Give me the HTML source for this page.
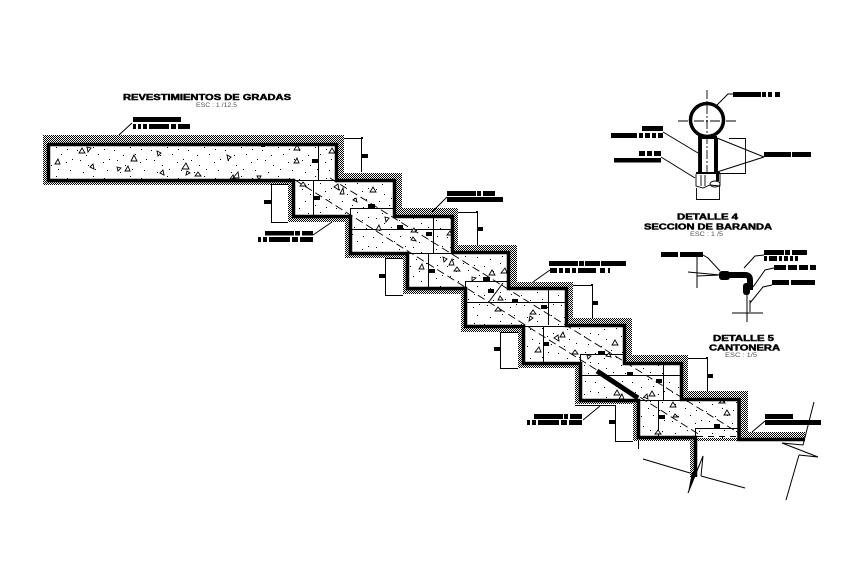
<!DOCTYPE html>
<html><head><meta charset="utf-8"><style>
html,body{margin:0;padding:0;background:#fff;width:861px;height:585px;overflow:hidden}
svg{display:block}
text{font-family:"Liberation Sans",sans-serif;fill:#000}
.h{font-weight:bold;stroke:#000;stroke-width:.45}
.s{fill:#555}
.b rect{fill:#000}
.thin{fill:none;stroke:#000;stroke-width:1}
</style></head><body>
<svg width="861" height="585" viewBox="0 0 861 585" xmlns="http://www.w3.org/2000/svg">
<defs>
<pattern id="hatch" width="2" height="2" patternUnits="userSpaceOnUse">
<rect width="2" height="2" fill="#fff"/><rect width="1" height="1" fill="#000"/><rect x="1" y="1" width="1" height="1" fill="#000"/>
</pattern>
<pattern id="dots" width="37" height="29" patternUnits="userSpaceOnUse">
<rect x="3" y="5" width="1" height="1"/><rect x="14" y="20" width="1" height="1"/><rect x="24" y="9" width="1" height="1"/><rect x="33" y="25" width="1" height="1"/><rect x="35" y="14" width="1" height="1"/><rect x="9" y="27" width="1" height="1"/><rect x="19" y="2" width="1" height="1"/><rect x="29" y="17" width="1" height="1"/><rect x="6" y="15" width="1" height="1"/><rect x="21" y="24" width="1" height="1"/><rect x="12" y="10" width="1" height="1"/><rect x="30" y="4" width="1" height="1"/>
</pattern>
<clipPath id="inner"><polygon points="48,144 336,144 336,180 394,180 394,216 452,216 452,252 508,252 508,288 566,288 566,325 624,325 624,363 681,363 681,399 739,399 739,438 695,438 638,437 638,400 580,400 580,363 523,363 523,326 465,326 465,288 407,288 407,253 350,253 350,216 293,216 293,180 48,180"/></clipPath>
</defs>
<rect width="861" height="585" fill="#fff"/>

<!-- hatch band -->
<polygon fill="url(#hatch)" shape-rendering="crispEdges" points="43,135 344,135 344,173 402,173 402,208 458,208 458,245 517,245 517,282 573,282 573,318 632,318 632,355 688,355 688,391 748,391 748,432 805,432 805,441 697,441 697,477 690,477 690,441 633,441 633,404 575,404 575,368 518,368 518,332 461,332 461,294 403,294 403,258 345,258 345,222 288,222 288,185 43,185"/>
<!-- concrete -->
<polygon fill="#fff" points="48,144 336,144 336,180 394,180 394,216 452,216 452,252 508,252 508,288 566,288 566,325 624,325 624,363 681,363 681,399 739,399 739,438 695,438 638,437 638,400 580,400 580,363 523,363 523,326 465,326 465,288 407,288 407,253 350,253 350,216 293,216 293,180 48,180"/>
<polygon fill="url(#dots)" points="48,144 336,144 336,180 394,180 394,216 452,216 452,252 508,252 508,288 566,288 566,325 624,325 624,363 681,363 681,399 739,399 739,438 695,438 638,437 638,400 580,400 580,363 523,363 523,326 465,326 465,288 407,288 407,253 350,253 350,216 293,216 293,180 48,180"/>

<!-- dashed diagonals -->
<g clip-path="url(#inner)" fill="none" stroke="#000" stroke-width=".9" stroke-dasharray="8 4">
<line x1="330" y1="178" x2="745" y2="437"/>
<line x1="295" y1="180" x2="700" y2="435"/>
</g>

<!-- inner thin lines -->
<g class="thin" shape-rendering="crispEdges">
<path d="M318.500 144V180M293 180.500H336M313.500 180V216M350 208.500H394M350.500 208V216M351 229.500H452M433.500 216V253M407 253.500H452M428.500 253V288M465 281.500H508M465.500 281V288M467 302.500H566M548.500 288V325M523 326.500H566M543.500 326V363M580 354.500H624M580.500 354V363M582 375.500H681M663.500 363V400M638 400.500H681M658.500 400V437M695 428.500H739M695.500 428V438"/>
</g>
<line x1="488" y1="303" x2="503" y2="283" stroke="#000"/>
<line x1="697" y1="436.500" x2="737" y2="436.500" stroke="#000" stroke-dasharray="6 5"/>

<!-- triangles -->
<g fill="#fff" stroke="#000" stroke-width=".9">
<path d="M82 148l-3 5h6zM87 147l4 1-3 4zM58 159l-3 5h5zM93 164l-3 3 4 2zM117 167l4 1-3 3zM128 166l-3 5h5zM134 155l-3 6h6zM157 151l4 2-3 3zM163 170l-3 3 4 2zM186 163l-4 6h7zM187 171l3 2-4 2zM198 172l-3 4h6zM227 155l4 2-3 3zM238 172l-5 6h6zM233 175l-3 4h5zM257 176l4 0-2 4zM297 158l-3 5h5zM297 145l-3 5h6zM332 148l-3 5h6zM303 182l-3 4h6zM338 184l-4 3 5 3zM343 188l-3 6 4 0zM373 187l-3 5h6zM356 198l-3 2 4 2z"/>
<path d="M385 217l4 1-3 4zM379 225l-3 5h5zM414 228l-3 4 5 0zM413 237l3 4-5-1zM450 231l-3 4h5zM443 257l4 2-3 3zM452 259l-3 6h5zM457 267l-3 4h6zM422 264l-3 5h5zM492 270l-3 5h6zM505 268l-4 5h6zM472 277l4 1-4 3zM500 296l3 4-5 0zM498 307l-3 4h6zM533 310l-3 4h6zM530 316l3 2-4 3z"/>
<path d="M563 332l-3 5h5zM558 335l-4 3 5 3zM615 340l-3 5h6zM539 347l-4 5h6zM575 350l-3 4h6zM587 355l4 1-3 3zM609 353l-3 3 5 1zM617 390l-3 5h6zM647 394l-3 3 4 2zM652 391l-3 5h6zM622 394l-3 5h5zM673 402l-3 5h6zM727 410l-3 5h6zM675 414l3 3-5 0zM658 430l-3 4h6zM722 400l3 3-6 0z"/>
</g>

<!-- thick black profile -->
<g fill="none" stroke="#000" stroke-width="3.500" stroke-linejoin="miter">
<polyline points="48,144.500 336.500,144.500 336.500,180.500 394.500,180.500 394.500,216.500 452.500,216.500 452.500,252.500 508.500,252.500 508.500,288.500 566.500,288.500 566.500,325.500 624.500,325.500 624.500,363.500 681.500,363.500 681.500,399.500 739,399.500 739,439.500 805,439.500"/>
<polyline points="695.500,477 695.500,437.500 638.500,437.500 638.500,400.500 580.500,400.500 580.500,363.500 523.500,363.500 523.500,326.500 465.500,326.500 465.500,288.500 407.500,288.500 407.500,253.500 350.500,253.500 350.500,216.500 293.500,216.500 293.500,180.500 48.500,180.500 48.500,144"/>
</g>
<line x1="597" y1="371" x2="638" y2="398" stroke="#000" stroke-width="5"/>

<!-- black ticks -->
<g class="b">
<rect x="312" y="159" width="6" height="4"/><rect x="314" y="196" width="6" height="4"/><rect x="368" y="204" width="7" height="4"/><rect x="261" y="144" width="4" height="3"/>
<rect x="397" y="225" width="6" height="4"/><rect x="426" y="232" width="6" height="4"/><rect x="429" y="269" width="6" height="4"/><rect x="483" y="277" width="7" height="4"/><rect x="488" y="289" width="6" height="4"/><rect x="512" y="299" width="6" height="4"/><rect x="541" y="305" width="6" height="4"/>
<rect x="598" y="351" width="7" height="4"/><rect x="543" y="342" width="6" height="4"/><rect x="627" y="372" width="6" height="4"/><rect x="656" y="379" width="6" height="4"/><rect x="659" y="415" width="6" height="4"/><rect x="714" y="424" width="6" height="4"/>
<rect x="362" y="154" width="6" height="4"/><rect x="477" y="227" width="6" height="4"/><rect x="592" y="301" width="6" height="4"/><rect x="707" y="374" width="6" height="4"/>
<rect x="264" y="200" width="7" height="4"/><rect x="379" y="274" width="6" height="4"/><rect x="494" y="347" width="6" height="4"/><rect x="609" y="420" width="6" height="4"/>
<rect x="361" y="137" width="2" height="2"/><rect x="476" y="211" width="2" height="2"/><rect x="591" y="284" width="2" height="2"/><rect x="706" y="357" width="2" height="2"/>
</g>

<!-- dimension lines -->
<g class="thin" shape-rendering="crispEdges">
<path d="M344 138.500H361.500V172M458 212.500H477.500V245M573 285.500H592.500V318M688 358.500H707.500V391"/>
<path d="M288 184.500H271.500V222.500H288M403 258.500H385.500V295.500H403M518 332.500H500.500V368.500H518M575 405.500H615.500V441.500H633M638.500 441V449"/>
</g>

<!-- leaders -->
<g class="thin" stroke-width=".9">
<path d="M132 123L119 135M313 235L332 222M447 197L432 212M550 270L533 282M583 420L600 406M765 421L752 432"/>
<path d="M733 94H728L717 105M663 132L698 153M661 157L695 178M764 157L717 138M764 157L717 172"/>
<path d="M703 255L708 258L720 271M764 255L755 256L744 268M774 268L765 270L753 287M772 285L763 287L750 303"/>
</g>

<!-- break lines -->
<g class="thin" stroke-width=".9">
<path d="M643 459L690 473M701 476L745 488M701 476L703 456L688 493M782 443L818 457M799 455L818 457M799 455L786 500M814 402L803 445L782 443"/>
</g>
<path d="M688 493L692 472L697 472z" fill="#000"/>

<!-- callout blobs: illegible in the reference -->
<g class="b">
<rect x="133" y="117" width="48" height="5"/><rect x="133" y="124" width="3" height="5"/><rect x="138" y="124" width="3" height="5"/><rect x="143" y="124" width="4" height="5"/><rect x="149" y="124" width="20" height="5"/><rect x="171" y="124" width="5" height="5"/><rect x="178" y="124" width="12" height="5"/>
<rect x="265" y="231" width="29" height="4.500"/><rect x="295" y="231" width="5" height="4.500"/><rect x="302" y="231" width="11" height="4.500"/>
<rect x="258" y="237" width="3" height="5"/><rect x="263" y="237" width="4" height="5"/><rect x="269" y="237" width="21" height="5"/><rect x="292" y="237" width="6" height="5"/><rect x="300" y="237" width="13" height="5"/>
<rect x="447" y="191" width="29" height="5"/><rect x="477" y="191" width="4" height="5"/><rect x="483" y="191" width="12" height="5"/><rect x="447" y="197" width="56" height="5"/>
<rect x="549" y="261" width="29" height="5"/><rect x="579" y="261" width="5" height="5"/><rect x="585" y="261" width="15" height="5"/><rect x="601" y="261" width="25" height="5"/>
<rect x="550" y="268" width="7" height="5"/><rect x="559" y="268" width="4" height="5"/><rect x="565" y="268" width="5" height="5"/><rect x="572" y="268" width="4" height="5"/><rect x="578" y="268" width="18" height="5"/><rect x="600" y="268" width="5" height="5"/><rect x="608" y="268" width="2" height="5"/>
<rect x="534" y="414" width="29" height="5"/><rect x="564" y="414" width="4" height="5"/><rect x="570" y="414" width="12" height="5"/>
<rect x="527" y="420" width="3" height="5"/><rect x="532" y="420" width="4" height="5"/><rect x="538" y="420" width="21" height="5"/><rect x="561" y="420" width="6" height="5"/><rect x="569" y="420" width="13" height="5"/>
<rect x="765" y="414" width="28" height="5"/><rect x="765" y="420" width="56" height="5"/>
<rect x="733" y="92" width="28" height="5"/><rect x="762" y="92" width="4" height="5"/><rect x="768" y="92" width="4" height="5"/><rect x="775" y="92" width="5" height="5"/>
<rect x="642" y="126" width="21" height="5"/><rect x="611" y="133" width="26" height="5"/><rect x="639" y="133" width="4" height="5"/><rect x="645" y="133" width="5" height="5"/><rect x="652" y="133" width="4" height="5"/><rect x="658" y="133" width="5" height="5"/>
<rect x="639" y="151" width="6" height="5"/><rect x="647" y="151" width="5" height="5"/><rect x="654" y="151" width="7" height="5"/><rect x="614" y="158" width="47" height="4.500"/>
<rect x="764" y="152" width="27" height="5"/><rect x="792" y="152" width="19" height="5"/>
<rect x="661" y="252" width="17" height="5"/><rect x="680" y="252" width="23" height="5"/>
<rect x="764" y="250" width="20" height="5"/><rect x="785" y="250" width="5" height="5"/><rect x="792" y="250" width="15" height="5"/>
<rect x="764" y="256" width="3" height="5"/><rect x="769" y="256" width="8" height="5"/><rect x="779" y="256" width="3" height="5"/><rect x="784" y="256" width="4" height="5"/><rect x="790" y="256" width="3" height="5"/><rect x="795" y="256" width="3" height="5"/>
<rect x="774" y="265" width="12" height="5"/><rect x="788" y="265" width="9" height="5"/><rect x="799" y="265" width="9" height="5"/><rect x="810" y="265" width="6" height="5"/>
<rect x="772" y="280" width="17" height="5"/><rect x="791" y="280" width="24" height="5"/>
</g>

<!-- Detail 4 -->
<circle cx="707" cy="120" r="16.500" fill="#fff" stroke="#000" stroke-width="3.500"/>
<g fill="none" stroke="#000" stroke-width=".9">
<path d="M707 90V172" stroke-dasharray="9 2 2 2"/>
<path d="M678 121H737" stroke-dasharray="10 2 2 2"/>
<path d="M698.500 138V173M696 173.500H720M696 174V186L703 188L710 185L720 186V174M696.500 188V199.500H719.500V186"/>
<path d="M729 138.500H745.500V173.500H720"/>
<ellipse cx="715" cy="184" rx="5" ry="3"/>
<path d="M701 175V186M705 175V186"/>
</g>
<rect x="699" y="138" width="3" height="35"/>
<rect x="714" y="138" width="4" height="35"/>
<rect x="698" y="136" width="19" height="3"/>
<rect x="696" y="172" width="24" height="2"/>
<rect x="716" y="174" width="3" height="7"/>

<!-- Detail 5 -->
<path d="M724 275H745Q750 275 750 280V290" fill="none" stroke="#000" stroke-width="6"/>
<rect x="719" y="271" width="11" height="9" rx="3"/>
<rect x="743" y="283" width="7" height="12" rx="3"/>
<g class="thin" stroke-width=".9">
<path d="M697 257V288M688 272L720 275M697 276L720 275M747 294V322M750 300V312M732 313L763 313"/>
</g>

<!-- titles -->
<text class="h" x="123" y="100" font-size="8" textLength="168" lengthAdjust="spacingAndGlyphs">REVESTIMIENTOS DE GRADAS</text>
<text class="s" x="196" y="107" font-size="6" textLength="41" lengthAdjust="spacingAndGlyphs">ESC : 1 /12.5</text>
<text class="h" x="677" y="219.500" font-size="8" textLength="61" lengthAdjust="spacingAndGlyphs">DETALLE 4</text>
<text class="h" x="644" y="229.500" font-size="8" textLength="128" lengthAdjust="spacingAndGlyphs">SECCION DE BARANDA</text>
<text class="s" x="690" y="236" font-size="6" textLength="33" lengthAdjust="spacingAndGlyphs">ESC : 1 /5</text>
<text class="h" x="713" y="341" font-size="8" textLength="61" lengthAdjust="spacingAndGlyphs">DETALLE 5</text>
<text class="h" x="709" y="350.500" font-size="8" textLength="71" lengthAdjust="spacingAndGlyphs">CANTONERA</text>
<text class="s" x="725" y="357" font-size="6" textLength="32" lengthAdjust="spacingAndGlyphs">ESC : 1/5</text>
</svg>
</body></html>
